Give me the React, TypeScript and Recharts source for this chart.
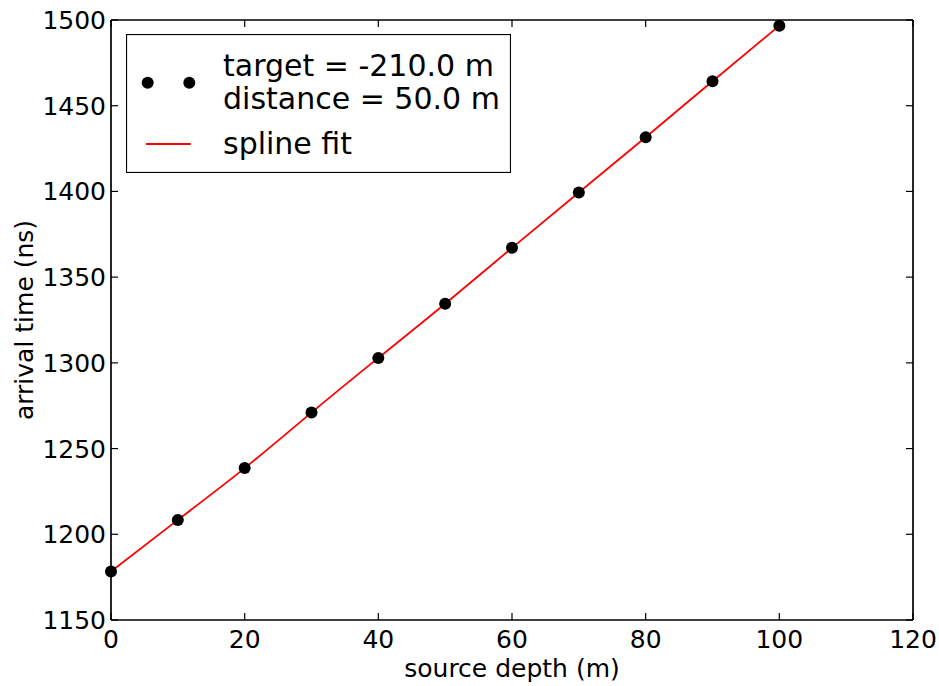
import React from 'react';
import { ComposedChart, XAxis, YAxis, Line, Legend } from 'recharts';

// source depth (m) and measured arrival time (ns)
const depths = [0, 10, 20, 30, 40, 50, 60, 70, 80, 90, 100];
const arrivalTimes = [1178.3, 1208.4, 1238.6, 1271.0, 1302.9, 1334.5, 1367.1, 1399.4, 1431.6, 1464.3, 1496.7];

const xTicks = [0, 20, 40, 60, 80, 100, 120];
const yTicks = [1150, 1200, 1250, 1300, 1350, 1400, 1450, 1500];

const pointLabels = ['target = -210.0 m', 'distance = 50.0 m'];
const fitLabel = 'spline fit';

const FONT = '"DejaVu Sans", "Bitstream Vera Sans", sans-serif';
const TICK_LEN = 7;
const TICK_FONT = 25;
const LABEL_FONT = 25;
const LEGEND_FONT = 30;

const data = depths.map((depth, i) => ({ depth, time: arrivalTimes[i] }));

// inward ticks, matplotlib classic style
const BottomTick = ({ x, y, payload }: any) => (
  <g>
    <line x1={x} x2={x} y1={y} y2={y - TICK_LEN} stroke="#000" strokeWidth={1.2} />
    <text x={x} y={y + 28} textAnchor="middle" fontSize={TICK_FONT} fontFamily={FONT} fill="#000">
      {payload.value}
    </text>
  </g>
);

const TopTick = ({ x, y }: any) => (
  <line x1={x} x2={x} y1={y} y2={y + TICK_LEN} stroke="#000" strokeWidth={1.2} />
);

const LeftTick = ({ x, y, payload }: any) => (
  <g>
    <line x1={x} x2={x + TICK_LEN} y1={y} y2={y} stroke="#000" strokeWidth={1.2} />
    <text x={x - 5} y={y} dy="0.36em" textAnchor="end" fontSize={TICK_FONT} fontFamily={FONT} fill="#000">
      {payload.value}
    </text>
  </g>
);

const RightTick = ({ x, y }: any) => (
  <line x1={x} x2={x - TICK_LEN} y1={y} y2={y} stroke="#000" strokeWidth={1.2} />
);

const XLabel = ({ viewBox }: any) => (
  <text
    x={viewBox.x + viewBox.width / 2}
    y={viewBox.y + 57}
    textAnchor="middle"
    fontSize={LABEL_FONT}
    fontFamily={FONT}
    fill="#000"
  >
    source depth (m)
  </text>
);

const YLabel = ({ viewBox }: any) => {
  const cx = viewBox.x + 33;
  const cy = viewBox.y + viewBox.height / 2;
  return (
    <text
      x={cx}
      y={cy}
      transform={`rotate(-90, ${cx}, ${cy})`}
      textAnchor="middle"
      fontSize={LABEL_FONT}
      fontFamily={FONT}
      fill="#000"
    >
      arrival time (ns)
    </text>
  );
};

const Dot = (p: any) => <circle key={p.index} cx={p.cx} cy={p.cy} r={6} fill="#000" />;

const LegendBox = () => (
  <svg width={385} height={139} style={{ display: 'block' }}>
    <rect x={0.5} y={0.5} width={384} height={138} fill="#fff" stroke="#000" strokeWidth={1.2} />
    <circle cx={21.7} cy={48.7} r={6} fill="#000" />
    <circle cx={63.3} cy={48.7} r={6} fill="#000" />
    <line x1={20} x2={64.7} y1={110} y2={110} stroke="#ff0000" strokeWidth={1.8} />
    {pointLabels.map((t, i) => (
      <text key={t} x={97} y={42 + i * 33.3} fontSize={LEGEND_FONT} fontFamily={FONT} fill="#000">
        {t}
      </text>
    ))}
    <text x={97} y={120.3} fontSize={LEGEND_FONT} fontFamily={FONT} fill="#000">
      {fitLabel}
    </text>
  </svg>
);

export default function App() {
  return (
    <div style={{ position: 'absolute', left: 0, top: 0, background: '#fff' }}>
      <ComposedChart width={939} height={686} data={data} margin={{ top: 19, right: 25, bottom: 0, left: 0 }}>
        <XAxis
          xAxisId="bottom"
          dataKey="depth"
          type="number"
          domain={[0, 120]}
          ticks={xTicks}
          interval={0}
          height={66}
          tickSize={0}
          tickMargin={0}
          tickLine={false}
          tick={BottomTick}
          axisLine={{ stroke: '#000', strokeWidth: 1.7 }}
          label={{ content: XLabel }}
        />
        <XAxis
          xAxisId="top"
          orientation="top"
          dataKey="depth"
          type="number"
          domain={[0, 120]}
          ticks={xTicks}
          interval={0}
          height={1}
          tickSize={0}
          tickMargin={0}
          tickLine={false}
          tick={TopTick}
          axisLine={{ stroke: '#000', strokeWidth: 1.7 }}
        />
        <YAxis
          yAxisId="left"
          dataKey="time"
          type="number"
          domain={[1150, 1500]}
          ticks={yTicks}
          interval={0}
          width={111}
          tickSize={0}
          tickMargin={0}
          tickLine={false}
          tick={LeftTick}
          axisLine={{ stroke: '#000', strokeWidth: 1.7 }}
          label={{ content: YLabel }}
        />
        <YAxis
          yAxisId="right"
          orientation="right"
          dataKey="time"
          type="number"
          domain={[1150, 1500]}
          ticks={yTicks}
          interval={0}
          width={1}
          tickSize={0}
          tickMargin={0}
          tickLine={false}
          tick={RightTick}
          axisLine={{ stroke: '#000', strokeWidth: 1.7 }}
        />
        {/* measured points (no connecting stroke) */}
        <Line
          xAxisId="bottom"
          yAxisId="left"
          dataKey="time"
          stroke="none"
          dot={Dot}
          activeDot={false}
          legendType="none"
          isAnimationActive={false}
        />
        {/* spline fit drawn over the points */}
        <Line
          xAxisId="bottom"
          yAxisId="left"
          dataKey="time"
          type="natural"
          stroke="#ff0000"
          strokeWidth={1.8}
          dot={false}
          activeDot={false}
          isAnimationActive={false}
        />
        <Legend
          layout="vertical"
          align="center"
          verticalAlign="middle"
          content={LegendBox}
          wrapperStyle={{ left: 126, top: 34, width: 385, height: 139 }}
        />
      </ComposedChart>
    </div>
  );
}
